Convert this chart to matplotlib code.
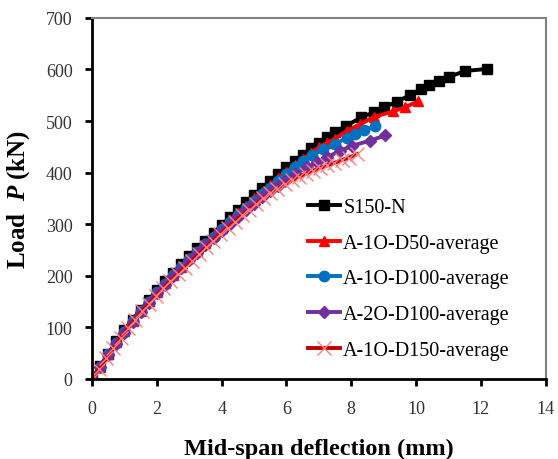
import matplotlib
matplotlib.use("Agg")
import matplotlib.pyplot as plt

plt.rcParams['font.family'] = 'Liberation Serif'
plt.rcParams['mathtext.fontset'] = 'custom'
plt.rcParams['mathtext.rm'] = 'Liberation Serif:bold'
plt.rcParams['mathtext.it'] = 'Liberation Serif:italic:bold'

# S150-N
s150_x = [0.00, 0.25, 0.50, 0.75, 1.00, 1.25, 1.50, 1.75, 2.00, 2.25, 2.50, 2.75,
          3.00, 3.25, 3.50, 3.75, 4.00, 4.25, 4.50, 4.75, 5.00, 5.25, 5.50, 5.75,
          6.00, 6.25, 6.50, 6.75, 7.00, 7.25, 7.50, 7.85, 8.30, 8.70, 9.00, 9.40,
          9.80, 10.15, 10.40, 10.70, 11.00, 11.50, 12.20]
s150_y = [0, 25, 49, 73, 95, 115, 134, 153, 172, 189, 205, 222,
          238, 253, 268, 283, 298, 313, 328, 343, 357, 371, 384, 398,
          411, 423, 435, 447, 458, 469, 479, 491, 507, 517, 527, 537,
          550, 562, 570, 577, 585, 597, 601]

# A-1O-D50-average
d50_x = [0.00, 0.25, 0.50, 0.75, 1.00, 1.25, 1.50, 1.75, 2.00, 2.25, 2.50, 2.75,
         3.00, 3.25, 3.50, 3.75, 4.00, 4.25, 4.50, 4.75, 5.00, 5.25, 5.50, 5.75,
         6.00, 6.25, 6.50, 6.75, 7.00, 7.25, 7.50, 7.86, 8.27, 8.70, 9.30, 9.66, 10.06]
d50_y = [0, 24, 48, 71, 93, 113, 132, 151, 169, 186, 202, 218,
         234, 249, 264, 279, 293, 308, 322, 336, 350, 363, 376, 389,
         402, 414, 426, 438, 449, 458, 466, 481, 494, 508, 519, 527, 538]

# A-1O-D100-average
d100_x = [0.00, 0.25, 0.50, 0.75, 1.00, 1.25, 1.50, 1.75, 2.00, 2.25, 2.50, 2.75,
          3.00, 3.25, 3.50, 3.75, 4.00, 4.25, 4.50, 4.75, 5.00, 5.25, 5.50, 5.75,
          6.00, 6.27, 6.50, 6.80, 7.13, 7.50, 7.86, 8.10, 8.40, 8.73]
d100_y = [0, 24, 48, 70, 92, 112, 131, 150, 168, 185, 201, 217,
          232, 247, 262, 276, 290, 304, 318, 332, 345, 358, 371, 384,
          397, 411, 422, 434, 445, 456, 467, 474, 482, 490]

# A-2O-D100-average
d2_x = [0.00, 0.25, 0.50, 0.75, 1.00, 1.25, 1.50, 1.75, 2.00, 2.25, 2.50, 2.75,
        3.00, 3.25, 3.50, 3.75, 4.00, 4.25, 4.50, 4.75, 5.00, 5.25, 5.50, 5.75,
        5.96, 6.27, 6.63, 6.94, 7.25, 7.65, 8.02, 8.58, 9.04]
d2_y = [0, 23, 46, 68, 90, 110, 129, 148, 166, 183, 199, 215,
        230, 245, 259, 273, 287, 301, 314, 327, 340, 352, 364, 375,
        384, 397, 410, 420, 430, 442, 452, 462, 472]

# A-1O-D150-average
d150_x = [0.00, 0.22, 0.44, 0.66, 0.88, 1.10, 1.32, 1.54, 1.76, 1.98, 2.20, 2.42,
          2.64, 2.86, 3.08, 3.30, 3.52, 3.74, 3.96, 4.18, 4.40, 4.62, 4.84, 5.06,
          5.28, 5.50, 5.72, 5.94, 6.16, 6.38, 6.60, 6.82, 7.04, 7.26, 7.48, 7.70,
          7.92, 8.18]
d150_y = [0, 20, 40, 60, 80, 98, 115, 131, 146, 161, 176, 190,
          203, 216, 229, 242, 255, 268, 281, 293, 305, 317, 328, 339,
          350, 360, 369, 377, 385, 392, 398, 404, 409, 414, 419, 424,
          429, 436]

fig = plt.figure(figsize=(5.58, 4.6), dpi=100)
ax = fig.add_axes([0.165, 0.174, 0.813, 0.785])

ax.plot(s150_x, s150_y, color='black', lw=2.8, marker='s', ms=6.5, label='S150-N')
ax.plot(d50_x, d50_y, color='#FF0000', lw=2.8, marker='^', ms=7.5, label='A-1O-D50-average')
ax.plot(d100_x, d100_y, color='#0070C0', lw=2.8, marker='o', ms=7.5, label='A-1O-D100-average')
ax.plot(d2_x, d2_y, color='#7030A0', lw=2.8, marker='D', ms=6.5, label='A-2O-D100-average')
ax.plot(d150_x, d150_y, color='#C00000', lw=2.8, marker='x', ms=10, mec='#FF7F7F',
        mew=1.0, label='A-1O-D150-average')

ax.set_xlim(0, 14)
ax.set_ylim(0, 700)
ax.set_xticks(range(0, 15, 2))
ax.set_yticks(range(0, 701, 100))

for s in ['left', 'bottom']:
    ax.spines[s].set_linewidth(2)
    ax.spines[s].set_color('black')
for s in ['top', 'right']:
    ax.spines[s].set_linewidth(1.5)
    ax.spines[s].set_color('#808080')

ax.tick_params(axis='x', direction='out', length=5, width=2, pad=10, labelsize=13,
               labelcolor='#333333')
ax.tick_params(axis='y', direction='out', length=5, width=2, pad=9, labelsize=13,
               labelcolor='#333333')

ax.set_xlabel('Mid-span deflection (mm)', fontsize=17.5, fontweight='bold', labelpad=15)
ax.set_ylabel(r'Load  $P$ (kN)', fontsize=18, fontweight='bold', labelpad=10)

ax.legend(loc='upper left', bbox_to_anchor=(0.476, 0.502), frameon=False, fontsize=14.5,
          handlelength=1.6, handletextpad=0.15, labelspacing=0.83,
          borderpad=0, borderaxespad=0)

fig.savefig('out.png', dpi=100)
